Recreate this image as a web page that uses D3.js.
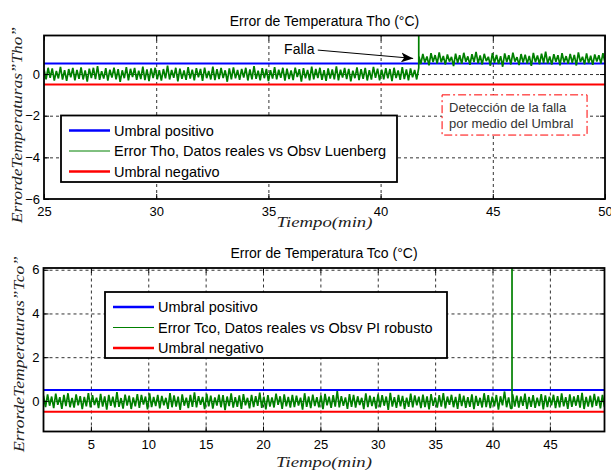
<!DOCTYPE html>
<html>
<head>
<meta charset="utf-8">
<script src="https://cdn.jsdelivr.net/npm/d3@7"></script>
<style>
  body { margin: 0; background: #fff; }
  svg { display: block; font-family: "Liberation Sans", Arial, sans-serif; }
  .grid line { stroke: #333; stroke-dasharray: 3,3; stroke-width: 1; }
  .grid path { display: none; }
  .tick text { font-size: 13px; fill: #000; }
  .axis path, .axis line { stroke: #000; }
  .title { font-size: 14px; text-anchor: middle; }
  .mathlabel { font-family: "Liberation Serif", "Times New Roman", serif; font-style: italic; font-size: 15px; text-anchor: middle; fill: #222; }
  .legend text { font-size: 14.5px; }
</style>
</head>
<body>
<svg class="visSVG"></svg>
<script>
const svgWidth = 611;
const svgHeight = 470;

// thresholds and fault
var umbralPos = 0.5;
var umbralNeg = -0.5;
var faultTime = 41.7;   // minutes
var thoSpike = 2.4;     // peak of the transient on Tho (clipped)
var tcoSpike = 7.0;     // peak of the transient on Tco (clipped)

// Tho error before the fault (25 min -> fault)
var thoPre = [0.22,-0.25,0.3,-0.18,0.27,-0.31,0.15,-0.21,0.34,-0.27,0.19,-0.33,0.24,-0.16,0.29,-0.3,0.2,-0.23,0.32,-0.26,0.17,-0.36,0.26,-0.19,0.3,-0.24,0.38,-0.28,0.14,-0.22,0.28,-0.32,0.21,-0.17,0.31,-0.25,0.23,-0.37,0.18,-0.2,0.33,-0.3,0.25,-0.15,0.29,-0.28,0.16,-0.24,0.36,-0.29,0.22,-0.34,0.27,-0.19,0.3,-0.25,0.19,-0.31,0.24,-0.21,0.4,-0.26,0.2,-0.18,0.3,-0.35,0.26,-0.23,0.17,-0.28,0.33,-0.22,0.21,-0.3,0.28,-0.16,0.25,-0.33,0.31,-0.2,0.15,-0.26,0.35,-0.29,0.23,-0.24,0.29,-0.19,0.18,-0.37,0.27,-0.25,0.32,-0.21,0.2,-0.28,0.24,-0.17,0.3,-0.31,0.22,-0.26,0.38,-0.23,0.16,-0.3,0.28,-0.2,0.25,-0.34,0.19,-0.22,0.33,-0.26,0.21,-0.18,0.3,-0.32,0.26,-0.24,0.17,-0.29,0.31,-0.15,0.23,-0.36,0.28,-0.21,0.2,-0.3,0.35,-0.25,0.24,-0.19,0.3,-0.28,0.18,-0.33,0.27,-0.22,0.22,-0.26,0.37,-0.3,0.21,-0.17,0.29,-0.24,0.25,-0.35,0.16,-0.2,0.32,-0.29,0.23,-0.23,0.3,-0.31,0.19,-0.27,0.34,-0.18,0.26,-0.3,0.21,-0.25,0.28,-0.21,0.24,-0.34,0.3,-0.19,0.17,-0.28,0.33,-0.24,0.22,-0.3,0.27,-0.16,0.2,-0.26,0.3];

// Tho error after the fault (fault -> 50 min)
var thoPost = [0.88,0.48,0.96,0.55,0.84,0.42,1.0,0.58,0.91,0.5,1.04,0.56,0.87,0.45,0.94,0.6,0.82,0.38,0.98,0.53,0.9,0.49,1.02,0.59,0.85,0.44,0.95,0.57,1.06,0.51,0.89,0.46,0.97,0.62,0.83,0.4,1.0,0.54,0.92,0.48,0.86,0.35,0.99,0.58,0.9,0.46,1.03,0.6,0.81,0.43,0.96,0.55,0.93,0.5,0.87,0.39,1.01,0.57,0.89,0.47,0.98,0.53,1.08,0.5,0.84,0.45,0.95,0.59,0.9,0.42,1.0,0.56,0.86,0.49,0.97,0.54,0.92,0.41,1.04,0.58,0.83,0.47,0.99,0.52,0.88,0.44,0.94,0.6,0.9,0.5,1.0,0.55];

// Tco error over the whole run
var tcoErr = [0.24,-0.28,0.3,-0.22,0.2,-0.33,0.33,-0.18,0.17,-0.36,0.27,-0.24,0.35,-0.29,0.14,-0.31,0.3,-0.2,0.22,-0.38,0.18,-0.25,0.36,-0.3,0.26,-0.19,0.15,-0.33,0.32,-0.26,0.21,-0.4,0.28,-0.23,0.19,-0.3,0.4,-0.27,0.13,-0.35,0.29,-0.21,0.24,-0.37,0.16,-0.25,0.31,-0.32,0.27,-0.17,0.2,-0.39,0.34,-0.28,0.18,-0.24,0.28,-0.34,0.23,-0.2,0.14,-0.36,0.36,-0.29,0.25,-0.26,0.19,-0.41,0.3,-0.22,0.15,-0.33,0.27,-0.27,0.39,-0.3,0.22,-0.18,0.18,-0.38,0.32,-0.25,0.24,-0.35,0.16,-0.21,0.29,-0.29,0.26,-0.42,0.2,-0.24,0.34,-0.31,0.17,-0.27,0.25,-0.36,0.31,-0.2,0.14,-0.34,0.28,-0.28,0.22,-0.23,0.38,-0.32,0.19,-0.39,0.26,-0.26,0.16,-0.3,0.33,-0.18,0.21,-0.37,0.3,-0.25,0.18,-0.31,0.27,-0.28,0.24,-0.21,0.15,-0.4,0.35,-0.27,0.2,-0.33,0.29,-0.24,0.17,-0.29,0.25,-0.38,0.32,-0.2,0.19,-0.32,0.26,-0.26,0.45,-0.3,0.22,-0.23,0.16,-0.36,0.31,-0.27,0.28,-0.31,0.21,-0.19,0.14,-0.38,0.34,-0.28,0.24,-0.24,0.18,-0.35,0.3,-0.29,0.26,-0.22,0.2,-0.41,0.37,-0.26,0.17,-0.32,0.27,-0.25,0.23,-0.37,0.15,-0.27,0.33,-0.3,0.25,-0.2,0.19,-0.33,0.29,-0.28,0.21,-0.39,0.31,-0.23,0.16,-0.31,0.26,-0.26,0.36,-0.34,0.2,-0.18,0.28,-0.29,0.18,-0.36,0.32,-0.24,0.24,-0.32,0.17,-0.27,0.3,-0.38,0.23,-0.22,0.14,-0.3,0.35,-0.28,0.26,-0.33,0.19,-0.25,0.27,-0.4,0.21,-0.2,0.43,-0.29,0.16,-0.34,0.29,-0.26,0.24,-0.31,0.2,-0.23,0.33,-0.37,0.18,-0.27,0.26,-0.32,0.15,-0.24,0.31,-0.39,0.25,-0.28,0.19,-0.2,0.28,-0.33,0.22,-0.3,0.34,-0.25,0.17,-0.36,0.3,-0.27,0.21,-0.22,0.26,-0.31,0.37,-0.37,0.18,-0.26,0.24,-0.29,0.32,-0.23,0.2,-0.34,0.27,-0.28];

// axis limits and ticks
var thoTimeRange = [25, 50];
var thoYRange = [-6, 1.85];
var thoXTicks = [25, 30, 35, 40, 45, 50];
var thoYTicks = [-6, -4, -2, 0];

var tcoTimeRange = [0.87, 49.76];
var tcoYRange = [-1.4, 6.08];
var tcoXTicks = [5, 10, 15, 20, 25, 30, 35, 40, 45];
var tcoYTicks = [0, 2, 4, 6];

var legendTho = ["Umbral positivo", "Error Tho, Datos reales vs Obsv Luenberg", "Umbral negativo"];
var legendTco = ["Umbral positivo", "Error Tco, Datos reales vs Obsv PI robusto", "Umbral negativo"];

var blue = "#0000ff", green = "#008000", red = "#ff0000";

const svg = d3.select('.visSVG')
    .attr("width", svgWidth)
    .attr("height", svgHeight);

// sample times spread evenly over a span
function times(n, t0, t1) {
    return d3.range(n).map(function(i) { return t0 + (t1 - t0) * i / (n - 1); });
}

function drawPanel(opt) {
    var m = opt.margin;
    var innerWidth = svgWidth - m.left - m.right;
    var innerHeight = opt.height;

    var g = svg.append("g")
        .attr("transform", "translate(" + m.left + "," + m.top + ")");

    var x = d3.scaleLinear().domain(opt.xDomain).range([0, innerWidth]);
    var y = d3.scaleLinear().domain(opt.yDomain).range([innerHeight, 0]);

    g.append("rect")
        .attr("width", innerWidth).attr("height", innerHeight)
        .attr("fill", "#fff");

    // grid
    g.append("g").attr("class", "grid")
        .attr("transform", "translate(0," + innerHeight + ")")
        .call(d3.axisBottom(x).tickValues(opt.xGrid).tickSize(-innerHeight).tickFormat(""));
    g.append("g").attr("class", "grid")
        .call(d3.axisLeft(y).tickValues(opt.yGrid).tickSize(-innerWidth).tickFormat(""));

    var clipId = "clip" + opt.id;
    g.append("clipPath").attr("id", clipId)
        .append("rect").attr("width", innerWidth).attr("height", innerHeight);

    var line = d3.line()
        .x(function(d) { return x(d[0]); })
        .y(function(d) { return y(d[1]); });

    var plot = g.append("g").attr("clip-path", "url(#" + clipId + ")");

    plot.append("path")
        .datum([[opt.xDomain[0], umbralPos], [opt.xDomain[1], umbralPos]])
        .attr("d", line).attr("stroke", blue).attr("stroke-width", 2).attr("fill", "none");
    plot.append("path")
        .datum(opt.series)
        .attr("d", line).attr("stroke", green).attr("stroke-width", 1.7)
        .attr("stroke-linejoin", "bevel").attr("fill", "none");
    plot.append("path")
        .datum([[opt.xDomain[0], umbralNeg], [opt.xDomain[1], umbralNeg]])
        .attr("d", line).attr("stroke", red).attr("stroke-width", 2).attr("fill", "none");

    // axes, ticks pointing inward
    var ax = g.append("g").attr("class", "axis");
    ax.append("g").attr("transform", "translate(0," + innerHeight + ")")
        .call(d3.axisBottom(x).tickValues(opt.xTicks).tickSizeInner(-5).tickSizeOuter(0).tickPadding(8))
        .select(".domain").remove();
    ax.append("g")
        .call(d3.axisTop(x).tickValues(opt.xTicks).tickSizeInner(-5).tickSizeOuter(0).tickFormat(""))
        .select(".domain").remove();
    ax.append("g")
        .call(d3.axisLeft(y).tickValues(opt.yTicks).tickSizeInner(-5).tickSizeOuter(0).tickPadding(4))
        .select(".domain").remove();
    ax.append("g").attr("transform", "translate(" + innerWidth + ",0)")
        .call(d3.axisRight(y).tickValues(opt.yTicks).tickSizeInner(-5).tickSizeOuter(0).tickFormat(""))
        .select(".domain").remove();

    g.append("rect")
        .attr("width", innerWidth).attr("height", innerHeight)
        .attr("fill", "none").attr("stroke", "#000").attr("stroke-width", 1.8);

    // title and labels
    svg.append("text").attr("class", "title")
        .attr("x", m.left + innerWidth / 2).attr("y", m.top - 10)
        .text(opt.title);
    svg.append("text").attr("class", "mathlabel")
        .attr("x", m.left + innerWidth / 2).attr("y", m.top + innerHeight + opt.xLabelDy)
        .attr("textLength", 96).attr("lengthAdjust", "spacingAndGlyphs")
        .text("Tiempo(min)");
    svg.append("text").attr("class", "mathlabel")
        .attr("transform", "translate(" + opt.yLabelX + "," + opt.yLabelY + ") rotate(-90)")
        .attr("textLength", 196).attr("lengthAdjust", "spacingAndGlyphs")
        .text(opt.yLabel);

    // legend
    var lg = svg.append("g").attr("class", "legend")
        .attr("transform", "translate(" + opt.legend.x + "," + opt.legend.y + ")");
    lg.append("rect")
        .attr("width", opt.legend.w).attr("height", opt.legend.h)
        .attr("fill", "#fff").attr("stroke", "#000").attr("stroke-width", 1.8);
    var colors = [blue, green, red];
    var widths = [2.5, 1, 2.5];
    opt.legendLabels.forEach(function(label, i) {
        var yy = 15 + i * 20.5;
        lg.append("line")
            .attr("x1", 8).attr("x2", 49).attr("y1", yy).attr("y2", yy)
            .attr("stroke", colors[i]).attr("stroke-width", widths[i]);
        lg.append("text")
            .attr("x", 53).attr("y", yy + 5)
            .text(label);
    });

    return { g: g, x: x, y: y };
}

// --- Tho panel series: pre-fault, transient, post-fault
var thoSeries = [];
times(thoPre.length, thoTimeRange[0], faultTime).forEach(function(t, i) { thoSeries.push([t, thoPre[i]]); });
thoSeries.push([faultTime, thoSpike]);
times(thoPost.length, faultTime, thoTimeRange[1]).forEach(function(t, i) { thoSeries.push([t, thoPost[i]]); });

// --- Tco panel series with the transient at the fault
var tcoSeries = [];
var spikeDone = false;
times(tcoErr.length, tcoTimeRange[0], tcoTimeRange[1]).forEach(function(t, i) {
    if (!spikeDone && t >= faultTime) {
        tcoSeries.push([faultTime, tcoErr[i - 1]]);
        tcoSeries.push([faultTime, tcoSpike]);
        tcoSeries.push([faultTime, tcoErr[i]]);
        spikeDone = true;
    }
    tcoSeries.push([t, tcoErr[i]]);
});

var thoPanel = drawPanel({
    id: "tho",
    margin: { top: 35.5, left: 44, right: 6 },
    height: 163.5,
    xDomain: thoTimeRange, yDomain: thoYRange,
    xTicks: thoXTicks, yTicks: thoYTicks,
    xGrid: [30, 35, 40, 45], yGrid: [-4, -2, 0],
    series: thoSeries,
    title: "Error de Temperatura Tho (°C)",
    xLabelDy: 28,
    yLabel: "ErrordeTemperaturas\u201DTho\u201D",
    yLabelX: 22, yLabelY: 125,
    legend: { x: 61, y: 115.5, w: 336, h: 66.5 },
    legendLabels: legendTho
});

var tcoPanel = drawPanel({
    id: "tco",
    margin: { top: 268, left: 43.5, right: 6.5 },
    height: 163.5,
    xDomain: tcoTimeRange, yDomain: tcoYRange,
    xTicks: tcoXTicks, yTicks: tcoYTicks,
    xGrid: [5, 10, 15, 20, 25, 30, 35, 40, 45], yGrid: [0, 2, 4, 6],
    series: tcoSeries,
    title: "Error de Temperatura Tco (°C)",
    xLabelDy: 35,
    yLabel: "ErrordeTemperaturas\u201DTco\u201D",
    yLabelX: 24, yLabelY: 354,
    legend: { x: 105, y: 292, w: 342, h: 66 },
    legendLabels: legendTco
});

// --- annotations on the Tho panel (data units)
var fallaLabel = { t: 35.7, v: 0.96 };
var fallaArrow = { t0: 37.2, v0: 1.15, t1: 41.45, v1: 0.75 };
var detBox = { t0: 42.74, t1: 49.2, v0: -1.0, v1: -2.93 };
var detText = ["Detección de la falla", "por medio del Umbral"];

svg.append("defs").append("marker")
    .attr("id", "arrowHead")
    .attr("viewBox", "0 0 12 10").attr("refX", 12).attr("refY", 5)
    .attr("markerWidth", 12).attr("markerHeight", 10).attr("markerUnits", "userSpaceOnUse")
    .attr("orient", "auto")
    .append("path").attr("d", "M0,0 L12,5 L0,10 L3,5 Z").attr("fill", "#000");

thoPanel.g.append("text")
    .attr("x", thoPanel.x(fallaLabel.t)).attr("y", thoPanel.y(fallaLabel.v))
    .attr("font-size", 14)
    .text("Falla");
thoPanel.g.append("line")
    .attr("x1", thoPanel.x(fallaArrow.t0)).attr("y1", thoPanel.y(fallaArrow.v0))
    .attr("x2", thoPanel.x(fallaArrow.t1)).attr("y2", thoPanel.y(fallaArrow.v1))
    .attr("stroke", "#000").attr("stroke-width", 1)
    .attr("marker-end", "url(#arrowHead)");

thoPanel.g.append("rect")
    .attr("x", thoPanel.x(detBox.t0)).attr("y", thoPanel.y(detBox.v0))
    .attr("width", thoPanel.x(detBox.t1) - thoPanel.x(detBox.t0))
    .attr("height", thoPanel.y(detBox.v1) - thoPanel.y(detBox.v0))
    .attr("fill", "#fff").attr("stroke", red).attr("stroke-width", 1)
    .attr("stroke-dasharray", "8,3,2,3");
detText.forEach(function(s, i) {
    thoPanel.g.append("text")
        .attr("x", thoPanel.x(detBox.t0) + 7)
        .attr("y", thoPanel.y(detBox.v0) + 17 + i * 16)
        .attr("font-size", 13).attr("fill", "#333")
        .text(s);
});
</script>
</body>
</html>
